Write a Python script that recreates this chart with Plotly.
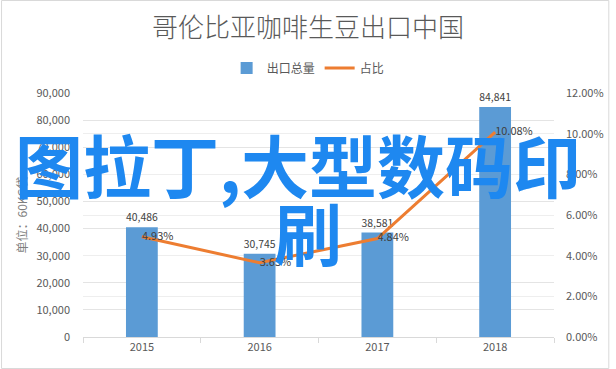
import plotly.graph_objects as go

years = ["2015", "2016", "2017", "2018"]
export_total = [40486, 30745, 38581, 84841]
share = [0.0493, 0.0365, 0.0484, 0.1008]

title_text = "哥伦比亚咖啡生豆出口中国"
bar_name = "出口总量"
line_name = "占比"
y_title = "单位：60KG袋"
overlay_line1 = "图拉丁,大型数码印"
overlay_line2 = "刷"

FONT = "Noto Sans CJK SC, Microsoft YaHei, sans-serif"
GRAY = "#595959"

# plot area in pixels
L, R, T, B = 83, 560, 93, 337
W, H = 616, 369
def px(x):
    return (x - L) / (R - L)
def py(y):
    return (B - y) / (B - T)

fig = go.Figure()
fig.add_trace(go.Bar(
    x=years, y=export_total, name=bar_name,
    marker=dict(color="#5B9BD5", line=dict(width=0)),
    texttemplate="%{y:,}", textposition="outside",
    textfont=dict(size=11, color="#404040", family=FONT),
    cliponaxis=False,
))
fig.add_trace(go.Scatter(
    x=years, y=share, name=line_name, yaxis="y2",
    mode="lines+text",
    line=dict(color="#ED7D31", width=3),
    texttemplate="%{y:.2%}", textposition="middle right",
    textfont=dict(size=11, color="#404040", family=FONT),
    cliponaxis=False,
))

fig.update_layout(
    width=W, height=H,
    margin=dict(l=L, r=W - R, t=T, b=H - B),
    paper_bgcolor="white", plot_bgcolor="white",
    font=dict(family=FONT, color=GRAY, size=11),
    bargap=0.73,
    title=dict(text=title_text, x=0.5, xanchor="center", y=1 - 28 / H, yanchor="middle",
               font=dict(size=26, color=GRAY, family=FONT, weight=300)),
    legend=dict(orientation="h", x=px(311), xanchor="center", y=py(68), yanchor="middle",
                font=dict(size=12, color=GRAY, family=FONT), itemwidth=30,
                bgcolor="rgba(0,0,0,0)"),
    xaxis=dict(type="category", showgrid=False, showline=True, linecolor="#D9D9D9",
               ticks="outside", tickson="boundaries", ticklen=5, tickcolor="#D9D9D9",
               tickfont=dict(size=11, color=GRAY)),
    yaxis=dict(range=[0, 90000], dtick=10000, tickformat=",", showgrid=True,
               gridcolor="#E4E4E4", gridwidth=1, zeroline=False, showline=False,
               ticks="", ticklabelstandoff=12,
               tickfont=dict(size=11, color=GRAY),
               title=dict(text=y_title, font=dict(size=12, color="#7F7F7F"), standoff=6)),
    yaxis2=dict(range=[0, 0.12], dtick=0.02, tickformat=".2%", overlaying="y", side="right",
                showgrid=True, gridcolor="#EEEEEE", gridwidth=1, zeroline=False,
                ticks="", ticklabelstandoff=11, tickfont=dict(size=11, color=GRAY)),
    shapes=[dict(type="rect", xref="paper", yref="paper",
                 x0=px(0.5), x1=px(615.5), y0=py(368.5), y1=py(0.5),
                 line=dict(color="#D9D9D9", width=1), layer="below")],
    annotations=[
        dict(text=overlay_line1, xref="paper", yref="paper", x=px(301), y=py(163),
             xanchor="center", yanchor="middle", showarrow=False,
             font=dict(size=68, color="#1E88F0", family=FONT, weight=700)),
        dict(text=overlay_line2, xref="paper", yref="paper", x=px(311), y=py(231),
             xanchor="center", yanchor="middle", showarrow=False,
             font=dict(size=68, color="#1E88F0", family=FONT, weight=700)),
    ],
)

fig.write_html("out.html")
